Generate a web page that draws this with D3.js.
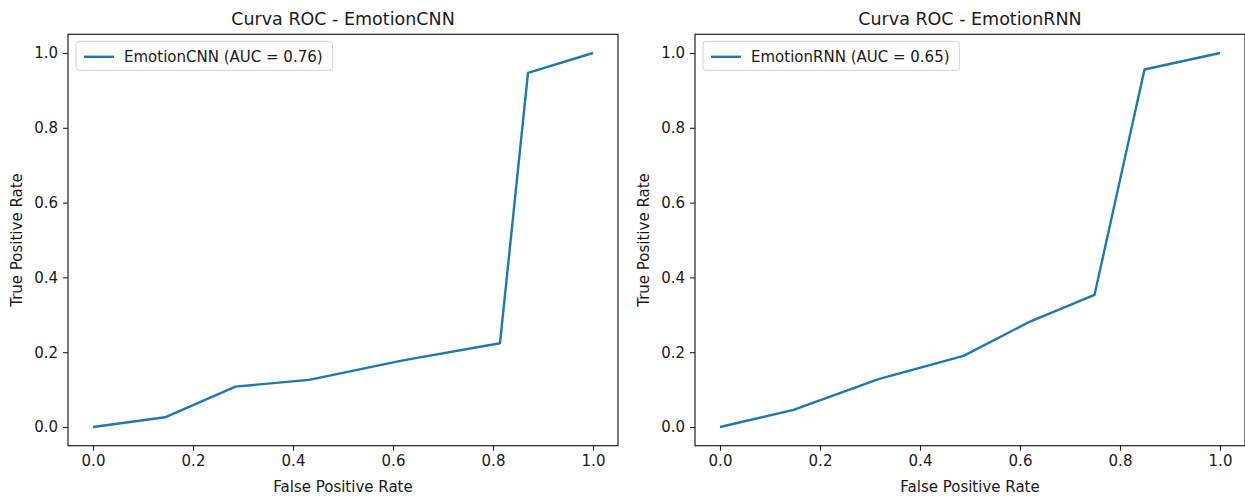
<!DOCTYPE html>
<html>
<head>
<meta charset="utf-8">
<script src="https://cdn.jsdelivr.net/npm/d3@7"></script>
<style>
    body { margin: 0; background: #fff; }
    text { font-family: "DejaVu Sans", sans-serif; fill: #1a1a1a; }
</style>
</head>
<body>
<div id="chart"></div>
<script>
// ROC points
const cnnFpr = [0, 0.144, 0.285, 0.432, 0.62, 0.814, 0.87, 1];
const cnnTpr = [0, 0.026, 0.108, 0.126, 0.178, 0.224, 0.947, 1];
const rnnFpr = [0, 0.147, 0.317, 0.487, 0.62, 0.749, 0.849, 1];
const rnnTpr = [0, 0.046, 0.128, 0.19, 0.282, 0.353, 0.956, 1];

const xTicks = [0, 0.2, 0.4, 0.6, 0.8, 1.0];
const yTicks = [0, 0.2, 0.4, 0.6, 0.8, 1.0];

const titles = ["Curva ROC - EmotionCNN", "Curva ROC - EmotionRNN"];
const legendLabels = ["EmotionCNN (AUC = 0.76)", "EmotionRNN (AUC = 0.65)"];

const settings = {
    width: 1245,
    height: 497,
    panelW: 550,
    panelH: 411.4,
    top: 34.3,
    lefts: [68, 695],
    color: "#1f77b4",
    font: "15px"
};

const svg = d3.select("#chart").append("svg")
    .attr("width", settings.width)
    .attr("height", settings.height);

function drawPanel(i, fpr, tpr) {
    const w = settings.panelW, h = settings.panelH;
    const g = svg.append("g")
        .attr("transform", `translate(${settings.lefts[i]},${settings.top})`);

    // matplotlib style 5% margins around [0,1]
    const x = d3.scaleLinear().domain([-0.05, 1.05]).range([0, w]);
    const y = d3.scaleLinear().domain([-0.05, 1.05]).range([h, 0]);

    const xAxis = g.append("g")
        .attr("transform", `translate(0,${h})`)
        .call(d3.axisBottom(x).tickValues(xTicks).tickFormat(d3.format(".1f")).tickSize(5).tickPadding(5));
    const yAxis = g.append("g")
        .call(d3.axisLeft(y).tickValues(yTicks).tickFormat(d3.format(".1f")).tickSize(5).tickPadding(5));

    [xAxis, yAxis].forEach(a => {
        a.select(".domain").remove();
        a.selectAll("line").attr("stroke", "#222").attr("stroke-width", 1.1);
        a.selectAll("text").style("font-size", settings.font).attr("fill", "#1a1a1a");
    });

    // data
    const pts = fpr.map((d, k) => [d, tpr[k]]);
    g.append("path")
        .datum(pts)
        .attr("fill", "none")
        .attr("stroke", settings.color)
        .attr("stroke-width", 2.4)
        .attr("stroke-linejoin", "round")
        .attr("d", d3.line().x(d => x(d[0])).y(d => y(d[1])));

    // frame
    g.append("rect")
        .attr("width", w).attr("height", h)
        .attr("fill", "none")
        .attr("stroke", "#222")
        .attr("stroke-width", 1.2);

    // title and axis labels
    g.append("text")
        .attr("x", w / 2).attr("y", -9)
        .attr("text-anchor", "middle")
        .style("font-size", "17.5px")
        .text(titles[i]);

    g.append("text")
        .attr("x", w / 2).attr("y", h + 46)
        .attr("text-anchor", "middle")
        .style("font-size", settings.font)
        .text("False Positive Rate");

    g.append("text")
        .attr("transform", `translate(-46,${h / 2}) rotate(-90)`)
        .attr("text-anchor", "middle")
        .style("font-size", settings.font)
        .text("True Positive Rate");

    // legend
    const lg = g.append("g").attr("transform", "translate(8,7)");
    const label = lg.append("text")
        .attr("x", 48).attr("y", 21)
        .style("font-size", settings.font)
        .text(legendLabels[i]);
    const tw = label.node().getComputedTextLength();
    lg.insert("rect", "text")
        .attr("width", 48 + tw + 10).attr("height", 29)
        .attr("rx", 3)
        .attr("fill", "#fff")
        .attr("fill-opacity", 0.8)
        .attr("stroke", "#d5d5d5");
    lg.append("line")
        .attr("x1", 8).attr("x2", 38)
        .attr("y1", 15.5).attr("y2", 15.5)
        .attr("stroke", settings.color)
        .attr("stroke-width", 2.4);
}

drawPanel(0, cnnFpr, cnnTpr);
drawPanel(1, rnnFpr, rnnTpr);
</script>
</body>
</html>
